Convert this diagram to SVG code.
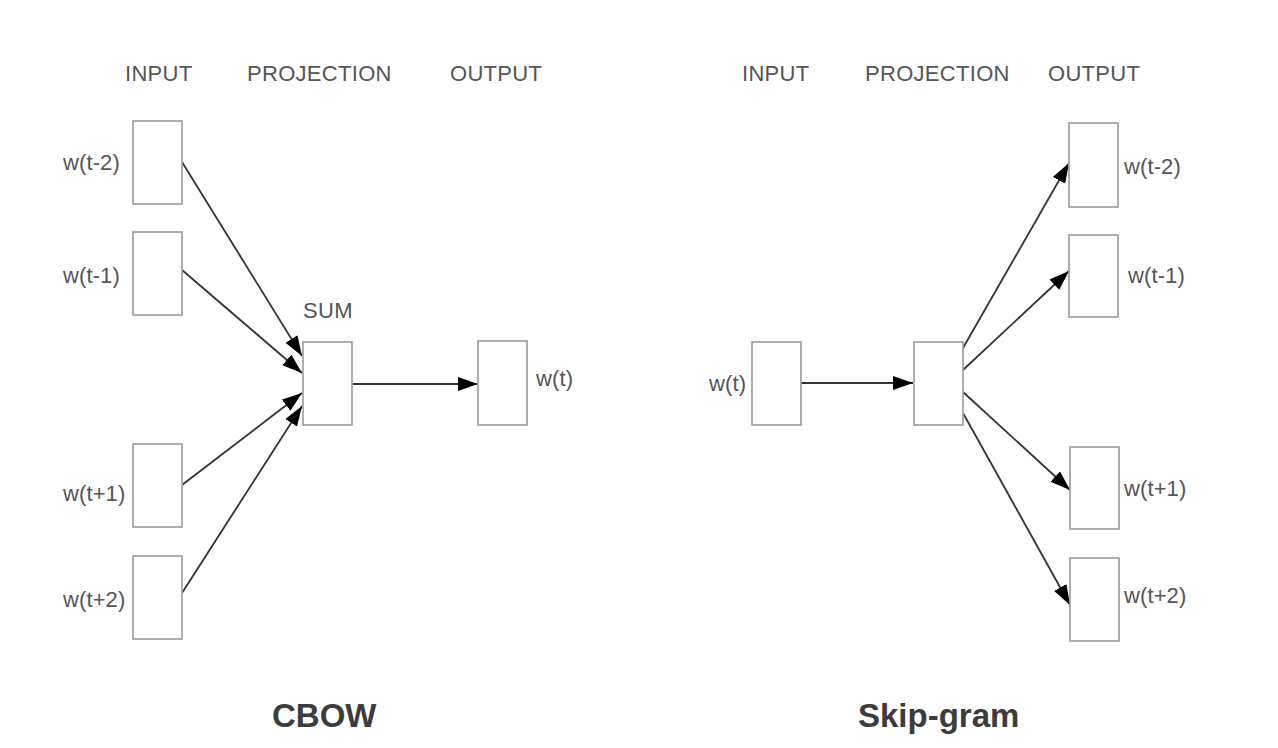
<svg xmlns="http://www.w3.org/2000/svg" width="1278" height="748" viewBox="0 0 1278 748">
<style>
.box{fill:#fff;stroke:#a0a0a0;stroke-width:1.7}
.hdr{font-family:"Liberation Sans",Arial,sans-serif;font-size:22px;fill:#555;letter-spacing:0.3px}
.lbl{font-family:"Liberation Sans",Arial,sans-serif;font-size:22px;fill:#555;letter-spacing:0.1px}
.ttl{font-family:"Liberation Sans",Arial,sans-serif;font-size:33px;font-weight:bold;fill:#3c3c3c}
.edge{stroke:#333;stroke-width:1.8;fill:none;marker-end:url(#ah)}
</style>
<defs>
<marker id="ah" markerUnits="userSpaceOnUse" markerWidth="22" markerHeight="16" refX="20" refY="7" orient="auto">
<path d="M0,0 L20,7 L0,14 z" fill="#000"/>
</marker>
</defs>
<rect width="1278" height="748" fill="#fff"/>
<g id="headers">
<text class="hdr" x="125" y="81">INPUT</text>
<text class="hdr" x="247" y="81">PROJECTION</text>
<text class="hdr" x="450" y="81">OUTPUT</text>
<text class="hdr" x="742" y="81">INPUT</text>
<text class="hdr" x="865" y="81">PROJECTION</text>
<text class="hdr" x="1048" y="81">OUTPUT</text>
</g>
<g id="connectors">
<line class="edge" x1="182" y1="162" x2="302" y2="356"/>
<line class="edge" x1="182" y1="270" x2="302" y2="373"/>
<line class="edge" x1="182" y1="485" x2="302" y2="393"/>
<line class="edge" x1="182" y1="593" x2="302" y2="406"/>
<line class="edge" x1="352" y1="384" x2="478" y2="384"/>
<line class="edge" x1="801" y1="383" x2="913" y2="383"/>
<line class="edge" x1="963" y1="348" x2="1069" y2="163"/>
<line class="edge" x1="963" y1="370" x2="1069" y2="271"/>
<line class="edge" x1="963" y1="392" x2="1070" y2="490"/>
<line class="edge" x1="963" y1="413" x2="1070" y2="605"/>
</g>
<g id="cbow-in-t-2"><rect class="box" x="133" y="121" width="49" height="83"/><text class="lbl" x="63" y="170">w(t-2)</text></g>
<g id="cbow-in-t-1"><rect class="box" x="133" y="232" width="49" height="83"/><text class="lbl" x="63" y="283">w(t-1)</text></g>
<g id="cbow-in-t+1"><rect class="box" x="133" y="444" width="49" height="83"/><text class="lbl" x="63" y="501">w(t+1)</text></g>
<g id="cbow-in-t+2"><rect class="box" x="133" y="556" width="49" height="83"/><text class="lbl" x="63" y="607">w(t+2)</text></g>
<g id="cbow-sum"><rect class="box" x="303" y="342" width="49" height="83"/><text class="hdr" x="303" y="318">SUM</text></g>
<g id="cbow-out"><rect class="box" x="478" y="341" width="49" height="84"/><text class="lbl" x="536" y="386">w(t)</text></g>
<g id="sg-in"><rect class="box" x="752" y="342" width="49" height="83"/><text class="lbl" x="709" y="391">w(t)</text></g>
<g id="sg-proj"><rect class="box" x="914" y="342" width="49" height="83"/></g>
<g id="sg-out-t-2"><rect class="box" x="1069" y="123" width="49" height="84"/><text class="lbl" x="1124" y="174">w(t-2)</text></g>
<g id="sg-out-t-1"><rect class="box" x="1069" y="235" width="49" height="82"/><text class="lbl" x="1128" y="283">w(t-1)</text></g>
<g id="sg-out-t+1"><rect class="box" x="1070" y="447" width="49" height="82"/><text class="lbl" x="1124" y="496">w(t+1)</text></g>
<g id="sg-out-t+2"><rect class="box" x="1070" y="558" width="49" height="83"/><text class="lbl" x="1124" y="603">w(t+2)</text></g>
<g id="titles">
<text class="ttl" x="272" y="727">CBOW</text>
<text class="ttl" x="858" y="727">Skip-gram</text>
</g>
</svg>
